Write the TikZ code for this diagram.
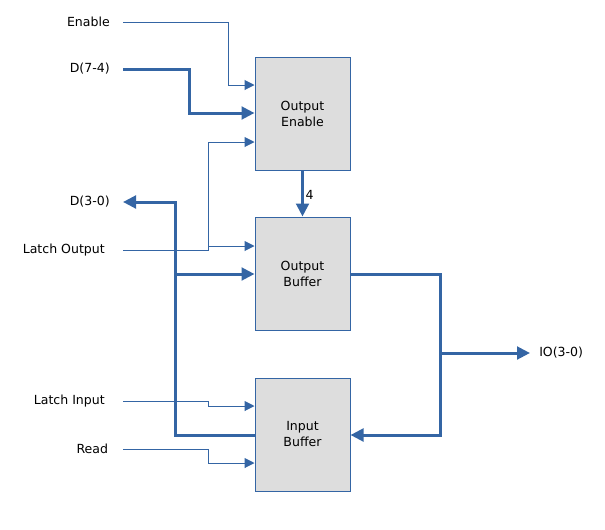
\documentclass[tikz,border=0pt]{standalone}
\usepackage{fontspec}
\setmainfont{DejaVu Sans}
\usetikzlibrary{arrows.meta, positioning, calc}
\definecolor{wire}{RGB}{52,101,164}
\definecolor{boxfill}{RGB}{221,221,221}

\begin{document}
\begin{tikzpicture}[x=0.75pt, y=-0.75pt,
	block/.style={draw=wire, fill=boxfill, line width=0.75pt, minimum width=71.25pt, minimum height=84.75pt, align=center, font=\fontsize{9.4}{12}\selectfont},
	sig/.style={anchor=east, inner xsep=9.75pt, inner ysep=0pt, font=\fontsize{9.4}{11}\selectfont},
	ctrl/.style={draw=wire, line width=0.75pt, -{Triangle[length=7.5pt, width=7.5pt]}},
	bus/.style={draw=wire, line width=2.25pt},
	bushead/.style={-{Triangle[length=9.75pt, width=9.5pt]}}]
	\useasboundingbox (0,0) rectangle (605,529);
	% blocks
	\node[block] (oe) at (302.5,113.5) {Output\\Enable};
	\node[block] (ob) at (302.5,273.5) {Output\\Buffer};
	\node[block] (ib) at (302.5,434.5) {Input\\Buffer};
	% signal names
	\node[sig] (en) at (123,22) {Enable};
	\node[sig] (dhi) at (123,69) {D(7-4)};
	\node[sig] (dlo) at (123,202) {D(3-0)};
	\node[sig, inner xsep=13.5pt] (lo) at (123,250) {Latch Output};
	\node[sig, inner xsep=13.5pt] (li) at (123,401) {Latch Input};
	\node[sig, inner xsep=11pt] (rd) at (123,449) {Read};
	\node[sig, anchor=west, inner xsep=6.75pt] (io) at (530,353) {IO(3-0)};
	\node[anchor=west, inner sep=1pt, font=\fontsize{9.4}{11}\selectfont] (width) at (304,195) {4};
	% taps
	\coordinate (lotap) at (208,246);
	\coordinate (dtap) at (175,274);
	\coordinate (iotap) at (440,353);
	% control lines
	\draw[ctrl] (en.east) -| (228,85) -- (oe.west |- 0,85);
	\draw[ctrl] (lo.east) -| (208,142) -- (oe.west |- 0,142);
	\draw[ctrl] (lotap) -- (ob.west |- lotap);
	\draw[ctrl] (li.east) -| (208,406) -- (ib.west |- 0,406);
	\draw[ctrl] (rd.east) -| (208,463) -- (ib.west |- 0,463);
	% data buses
	\draw[bus, bushead] (dhi.east) -| (189,113) -- (oe.west |- 0,113);
	\draw[bus, bushead] (oe.south) -- (ob.north);
	\draw[bus, {Triangle[length=9.75pt, width=9.5pt]}-] (dlo.east) -| (175,435) -- (ib.west |- 0,435);
	\draw[bus, bushead] (dtap) -- (ob.west |- dtap);
	\draw[bus, bushead] (ob.east |- dtap) -| (440,435) -- (ib.east |- 0,435);
	\draw[bus, bushead] (iotap) -- (io.west);
\end{tikzpicture}
\end{document}
